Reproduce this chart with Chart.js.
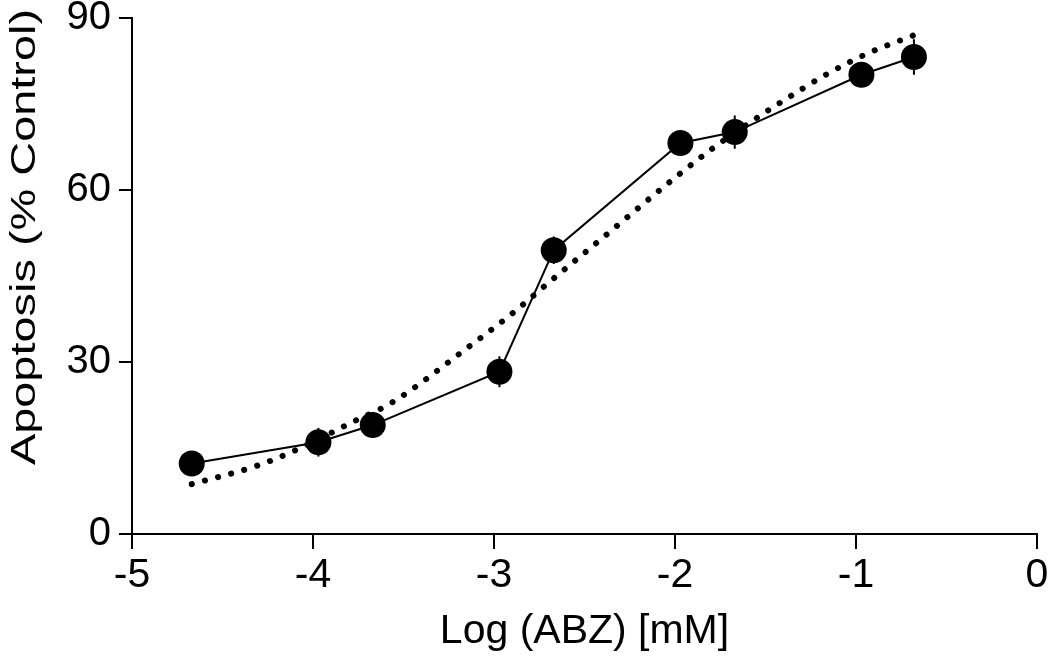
<!DOCTYPE html>
<html>
<head>
<meta charset="utf-8">
<script src="https://cdn.jsdelivr.net/npm/chart.js@4"></script>
<style>
  html, body { margin: 0; padding: 0; background: #fff; }
  #wrap { width: 1050px; height: 656px; }
</style>
</head>
<body>
<div id="wrap"><canvas id="chart" width="1050" height="656"></canvas></div>
<script>
// measured points (log dose vs apoptosis)
const logDose = [-4.67, -3.97, -3.67, -2.97, -2.67, -1.97, -1.67, -0.97, -0.68];
const apoptosis = [12.3, 16.0, 19.0, 28.3, 49.5, 68.2, 70.1, 80.1, 83.2];
const apoptosisErr = [1.0, 2.5, 2.2, 2.7, 2.4, 1.5, 2.9, 1.5, 3.1];

// fitted curve
const fitX = [-4.67, -4.31, -4.09, -3.79, -3.56, -3.15, -2.89, -2.70, -2.44, -1.99, -1.79, -1.58, -1.44, -1.15, -0.93, -0.68];
const fitY = [8.7, 11.9, 14.7, 19.4, 23.0, 32.4, 38.7, 43.8, 50.6, 62.4, 67.3, 71.9, 74.8, 80.4, 83.9, 87.0];

const xTicks = [-5, -4, -3, -2, -1, 0];
const yTicks = [0, 30, 60, 90];
const yTitle = "Apoptosis (% Control)";

const FONT = "'Liberation Sans', Arial, Helvetica, sans-serif";

// small vertical error bars drawn through the scales
const errorBars = {
  id: "errorBars",
  afterDatasetsDraw: function (chart) {
    const ctx = chart.ctx;
    const xs = chart.scales.x;
    const ys = chart.scales.y;
    ctx.save();
    ctx.strokeStyle = "#000";
    ctx.lineWidth = 2;
    logDose.forEach((x, i) => {
      const px = xs.getPixelForValue(x);
      ctx.beginPath();
      ctx.moveTo(px, ys.getPixelForValue(apoptosis[i] - apoptosisErr[i]));
      ctx.lineTo(px, ys.getPixelForValue(apoptosis[i] + apoptosisErr[i]));
      ctx.stroke();
    });
    ctx.restore();
  }
};

// y title is a bit narrow and sits above the axis middle in the original
const yTitlePlugin = {
  id: "yTitle",
  afterDraw: function (chart) {
    const ctx = chart.ctx;
    ctx.save();
    ctx.translate(35, 237);
    ctx.rotate(-Math.PI / 2);
    ctx.scale(1.34, 1);
    ctx.font = "35px " + FONT;
    ctx.fillStyle = "#000";
    ctx.textAlign = "center";
    ctx.textBaseline = "alphabetic";
    ctx.fillText(yTitle, 0, 0);
    ctx.restore();
  }
};

new Chart(document.getElementById("chart"), {
  type: "line",
  data: {
    datasets: [
      {
        label: "Fit",
        data: fitX.map((x, i) => ({ x: x, y: fitY[i] })),
        borderColor: "#000",
        borderWidth: 6,
        borderDash: [0.1, 13.5],
        borderCapStyle: "round",
        cubicInterpolationMode: "monotone",
        pointRadius: 0,
        fill: false
      },
      {
        label: "Apoptosis",
        data: logDose.map((x, i) => ({ x: x, y: apoptosis[i] })),
        borderColor: "#000",
        backgroundColor: "#000",
        borderWidth: 2,
        pointRadius: 13,
        pointBackgroundColor: "#000",
        pointBorderWidth: 0,
        tension: 0,
        fill: false
      }
    ]
  },
  options: {
    responsive: false,
    animation: false,
    layout: { padding: { top: 18, right: 12, left: 0, bottom: 0 } },
    plugins: {
      legend: { display: false },
      tooltip: { enabled: false }
    },
    scales: {
      x: {
        type: "linear",
        min: -5,
        max: 0,
        afterBuildTicks: (scale) => { scale.ticks = xTicks.map((v) => ({ value: v })); },
        afterFit: (scale) => {
          scale.height = 122;
          scale.paddingLeft = 0;
          scale.paddingRight = 0;
        },
        border: { display: true, color: "#000", width: 2 },
        grid: { drawOnChartArea: false, drawTicks: true, tickLength: 15, color: "#000", lineWidth: 2 },
        ticks: { color: "#000", padding: 2, font: { family: FONT, size: 41 } },
        title: {
          display: true,
          text: "Log (ABZ) [mM]",
          color: "#000",
          font: { family: FONT, size: 41 },
          padding: { top: 0, bottom: 0 }
        }
      },
      y: {
        type: "linear",
        min: 0,
        max: 90,
        afterBuildTicks: (scale) => { scale.ticks = yTicks.map((v) => ({ value: v })); },
        afterFit: (scale) => {
          scale.width = 132;
          scale.paddingTop = 0;
          scale.paddingBottom = 0;
        },
        border: { display: true, color: "#000", width: 2 },
        grid: { drawOnChartArea: false, drawTicks: true, tickLength: 13, color: "#000", lineWidth: 2 },
        ticks: { color: "#000", padding: 8, font: { family: FONT, size: 40 } },
        title: { display: false }
      }
    }
  },
  plugins: [errorBars, yTitlePlugin]
});
</script>
</body>
</html>
